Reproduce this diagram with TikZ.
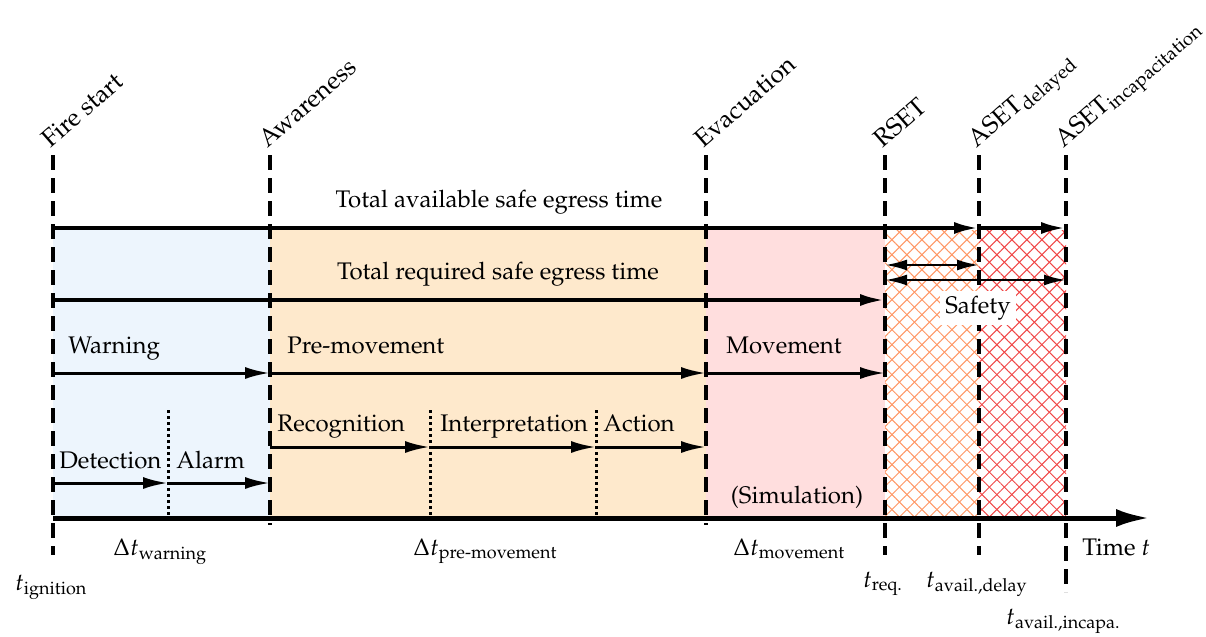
\documentclass[tikz,border=0pt]{standalone}
\usepackage[T1]{fontenc}
\usepackage{mathpazo}
\usepackage{amsmath}
\usetikzlibrary{arrows.meta,patterns.meta,positioning}
\definecolor{warnblue}{RGB}{237,245,253}
\definecolor{premove}{RGB}{254,233,204}
\definecolor{movepink}{RGB}{255,222,222}
\definecolor{hatchorange}{RGB}{255,150,100}
\definecolor{hatchred}{RGB}{240,70,70}
\tikzstyle{line} = [draw, line width=1.5pt, -{Latex[length=12.5pt,width=6pt]}]
\tikzstyle{tot} = [line, line width=2pt]
\tikzstyle{dline} = [draw, line width=1.3pt, {Latex[length=11pt,width=5.5pt]}-{Latex[length=11pt,width=5.5pt]}]
\tikzstyle{axis} = [draw, line width=2.5pt, -{Latex[length=17pt,width=9pt]}]
\tikzstyle{tline} = [draw, line width=1.6pt, dash pattern=on 7.5pt off 4pt]
\tikzstyle{subline} = [draw, line width=1.5pt, dash pattern=on 1.5pt off 1.5pt]
\tikzstyle{event} = [rotate=41, anchor=base west, inner sep=0pt, font=\fontsize{12.5}{15}\selectfont]
\tikzstyle{txt} = [anchor=base west, inner sep=0pt]

\begin{document}
\begin{tikzpicture}[x=0.5pt, y=-0.5pt, font=\fontsize{12}{14}\selectfont]
    \useasboundingbox (0,0) rectangle (1206,637);
    % points on the time axis
    \coordinate (xF) at (53,518);
    \coordinate (xW) at (168,518);
    \coordinate (xA) at (270,518);
    \coordinate (xR) at (430,518);
    \coordinate (xI) at (596,518);
    \coordinate (xE) at (706,518);
    \coordinate (xQ) at (885,518);
    \coordinate (xD) at (979,518);
    \coordinate (xC) at (1066,518);
    \coordinate (tEnd) at (1150,518);
    % levels
    \coordinate (yTop) at (0,155);
    \coordinate (yFill) at (0,230);
    \coordinate (yAv) at (0,228);
    \coordinate (yS1) at (0,265);
    \coordinate (yS2) at (0,280);
    \coordinate (yRq) at (0,300);
    \coordinate (yPh) at (0,373);
    \coordinate (yDot) at (0,410);
    \coordinate (ySub) at (0,447);
    \coordinate (yDet) at (0,483);
    \coordinate (yEnd1) at (0,555);
    \coordinate (yEnd2) at (0,525);
    \coordinate (yEnd3) at (0,592);

    % phase areas
    \fill[warnblue] (xF |- yFill) rectangle (xA);
    \fill[premove] (xA |- yFill) rectangle (xE);
    \fill[movepink] (xE |- yFill) rectangle (xQ);
    \fill[pattern={Lines[angle=45,distance=5.3pt,line width=0.5pt]}, pattern color=hatchorange] (xQ |- yFill) rectangle (xD);
    \fill[pattern={Lines[angle=-45,distance=5.3pt,line width=0.5pt]}, pattern color=hatchorange] (xQ |- yFill) rectangle (xD);
    \fill[pattern={Lines[angle=45,distance=5.3pt,line width=0.5pt]}, pattern color=hatchred] (xD |- yFill) rectangle (xC);
    \fill[pattern={Lines[angle=-45,distance=5.3pt,line width=0.5pt]}, pattern color=hatchred] (xD |- yFill) rectangle (xC);

    % events
    \node[event] (fire) at (50,149) {Fire start};
    \node[event] (aware) at (267,149) {Awareness};
    \node[event] (evac) at (703,149) {Evacuation};
    \node[event] (rset) at (882,149) {RSET};
    \node[event] (asetd) at (976,149) {ASET$_{\text{delayed}}$};
    \node[event] (aseti) at (1063,149) {ASET$_{\text{incapacitation}}$};

    \path[tline] (xF |- yTop) -- (xF |- yEnd1);
    \path[tline] (xA |- yTop) -- (xA |- yEnd2);
    \path[tline] (xE |- yTop) -- (xE |- yEnd2);
    \path[tline] (xQ |- yTop) -- (xQ |- yEnd1);
    \path[tline] (xD |- yTop) -- (xD |- yEnd1);
    \path[tline] (xC |- yTop) -- (xC |- yEnd3);

    \path[subline] (xW |- yDot) -- (xW);
    \path[subline] (xR |- yDot) -- (xR);
    \path[subline] (xI |- yDot) -- (xI);

    % arrows
    \path[tot] (xF |- yAv) -- (xD |- yAv);
    \path[tot] (xD |- yAv) -- (xC |- yAv);
    \path[tot] (xF |- yRq) -- (xQ |- yRq);
    \path[dline] (xQ |- yS1) -- (xD |- yS1);
    \path[dline] (xQ |- yS2) -- (xC |- yS2);
    \path[line] (xF |- yPh) -- (xA |- yPh);
    \path[line] (xA |- yPh) -- (xE |- yPh);
    \path[line] (xE |- yPh) -- (xQ |- yPh);
    \path[line] (xA |- ySub) -- (xR |- ySub);
    \path[line] (xR |- ySub) -- (xI |- ySub);
    \path[line] (xI |- ySub) -- (xE |- ySub);
    \path[line] (xF |- yDet) -- (xW |- yDet);
    \path[line] (xW |- yDet) -- (xA |- yDet);
    \path[axis] (xF) -- (tEnd);

    % labels
    \node[anchor=base, inner sep=0pt] (avail) at (499,207) {Total available safe egress time};
    \node[anchor=base, inner sep=0pt] (req) at (498,279) {Total required safe egress time};
    \node[fill=white, inner sep=2.5pt] (safety) at (978,308) {Safety};
    \node[txt] (warn) at (68,353) {Warning};
    \node[txt] (pre) at (287,353) {Pre-movement};
    \node[txt] (move) at (726,353) {Movement};
    \node[txt] (recog) at (277,431) {Recognition};
    \node[txt] (interp) at (440,431) {Interpretation};
    \node[txt] (act) at (603,431) {Action};
    \node[txt] (detect) at (59,468) {Detection};
    \node[txt] (alarm) at (176,468) {Alarm};
    \node[anchor=base, inner sep=0pt] (sim) at (797,503) {(Simulation)};

    \node[txt] (dwarn) at (113,555) {$\Delta t_{\text{warning}}$};
    \node[txt] (dpre) at (413,555) {$\Delta t_{\text{pre-movement}}$};
    \node[txt] (dmove) at (733,555) {$\Delta t_{\text{movement}}$};
    \node[txt] (tign) at (15,590) {$t_{\text{ignition}}$};
    \node[txt] (treq) at (863,587) {$t_{\text{req.}}$};
    \node[txt] (tdel) at (926,587) {$t_{\text{avail.,delay}}$};
    \node[txt] (tinc) at (1006,624) {$t_{\text{avail.,incapa.}}$};
    \node[txt] (time) at (1082,555) {Time $t$};
\end{tikzpicture}
\end{document}
